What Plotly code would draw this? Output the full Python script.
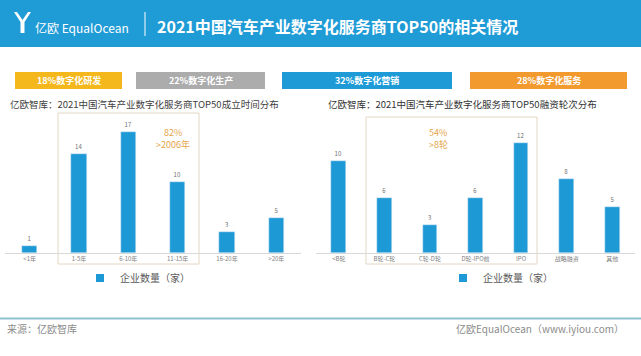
import plotly.graph_objects as go

W, H = 641, 356

# ---- data ----
year_cats = ["<1年", "1-5年", "6-10年", "11-15年", "16-20年", ">20年"]
year_vals = [1, 14, 17, 10, 3, 5]
round_cats = ["<B轮", "B轮-C轮", "C轮-D轮", "D轮-IPO前", "IPO", "战略融资", "其他"]
round_vals = [10, 6, 3, 6, 12, 8, 5]
tag_texts = ["18%数字化研发", "22%数字化生产", "32%数字化营销", "28%数字化服务"]
title_text = "2021中国汽车产业数字化服务商TOP50的相关情况"
sub_left = "亿欧智库：2021中国汽车产业数字化服务商TOP50成立时间分布"
sub_right = "亿欧智库：2021中国汽车产业数字化服务商TOP50融资轮次分布"
legend_name = "企业数量（家）"

FONT = "Noto Sans CJK SC, Noto Sans, sans-serif"
BLUE = "#1d9ad6"
HEADER = "#1f9bd6"


def px(x):
    return x / W


def py(y):
    return 1 - y / H


fig = go.Figure()

fig.add_trace(go.Bar(
    x=year_cats, y=year_vals, xaxis="x", yaxis="y",
    marker_color=BLUE, width=0.31, text=year_vals, textposition="outside",
    textfont=dict(size=6, color="#6f6f6f"), cliponaxis=False, showlegend=False,
))
fig.add_trace(go.Bar(
    x=round_cats, y=round_vals, xaxis="x2", yaxis="y2",
    marker_color=BLUE, width=0.32, text=round_vals, textposition="outside",
    textfont=dict(size=6, color="#6f6f6f"), cliponaxis=False, showlegend=False,
))
# legend entries
fig.add_trace(go.Scatter(x=[None], y=[None], mode="markers", name=legend_name,
                         marker=dict(symbol="square", size=8, color=BLUE),
                         legend="legend", xaxis="x", yaxis="y"))
fig.add_trace(go.Scatter(x=[None], y=[None], mode="markers", name=legend_name,
                         marker=dict(symbol="square", size=8, color=BLUE),
                         legend="legend2", xaxis="x2", yaxis="y2"))

base = 253
top = 118
axis_common = dict(showgrid=False, zeroline=False, ticks="", showline=True,
                   linecolor="#d9d9d9", linewidth=1,
                   tickfont=dict(size=6, color="#7f7f7f", family=FONT), fixedrange=True)

shapes = []
# header
shapes.append(dict(type="rect", xref="paper", yref="paper", x0=0, x1=1, y0=py(47), y1=1,
                   fillcolor=HEADER, line_width=0, layer="below"))
# logo icon
pts = [(14, 12), (17, 12), (22.5, 20), (28, 12), (31, 12), (24.5, 22), (24.5, 33), (20.5, 33), (20.5, 22)]
path = "M" + " L".join(f"{px(a):.5f},{py(b):.5f}" for a, b in pts) + " Z"
shapes.append(dict(type="path", xref="paper", yref="paper", path=path,
                   fillcolor="white", line_width=0))
# divider
shapes.append(dict(type="line", xref="paper", yref="paper", x0=px(145), x1=px(145),
                   y0=py(12), y1=py(36), line=dict(color="white", width=1)))
# tags
tag_boxes = [(15, 122, "#f4b71c"), (136, 265, "#acacac"), (282, 452, "#1e9bd7"), (470, 627, "#f39a2e")]
annotations = []
for (x0, x1, c), t in zip(tag_boxes, tag_texts):
    shapes.append(dict(type="rect", xref="paper", yref="paper", x0=px(x0), x1=px(x1),
                       y0=py(89), y1=py(72), fillcolor=c, line_width=0, layer="below"))
    annotations.append(dict(x=px((x0 + x1) / 2), y=py(80.5), xref="paper", yref="paper",
                            text="<b>" + t + "</b>", showarrow=False,
                            font=dict(size=9, color="white", family=FONT),
                            xanchor="center", yanchor="middle"))
# highlight boxes
shapes.append(dict(type="rect", xref="paper", yref="paper", x0=px(58), x1=px(199),
                   y0=py(264), y1=py(113), line=dict(color="#e2d6c2", width=1), layer="below"))
shapes.append(dict(type="rect", xref="paper", yref="paper", x0=px(366), x1=px(537),
                   y0=py(264), y1=py(117), line=dict(color="#e2d6c2", width=1), layer="below"))
# footer line
shapes.append(dict(type="line", xref="paper", yref="paper", x0=0, x1=1, y0=py(318.5), y1=py(318.5),
                   line=dict(color="#8fc0cf", width=2)))

# texts
annotations += [
    dict(x=px(33), y=py(27), text="亿欧 EqualOcean", xanchor="left", yanchor="middle",
         font=dict(size=12, color="white", family="Noto Sans CJK SC, Lato, sans-serif")),
    dict(x=px(337), y=py(26), text="<b>" + title_text + "</b>", xanchor="center", yanchor="middle",
         font=dict(size=16, color="white", family=FONT)),
    dict(x=px(144), y=py(103.5), text=sub_left, xanchor="center", yanchor="middle",
         font=dict(size=9.5, color="#404040", family=FONT)),
    dict(x=px(463), y=py(103.5), text=sub_right, xanchor="center", yanchor="middle",
         font=dict(size=9.5, color="#333333", family=FONT)),
    dict(x=px(173), y=py(132.5), text="82%", xanchor="center", yanchor="middle",
         font=dict(size=9, color="#e5a54c", family=FONT)),
    dict(x=px(173), y=py(144), text="&gt;2006年", xanchor="center", yanchor="middle",
         font=dict(size=9, color="#e5a54c", family=FONT)),
    dict(x=px(438), y=py(132.5), text="54%", xanchor="center", yanchor="middle",
         font=dict(size=9, color="#e5a54c", family=FONT)),
    dict(x=px(438), y=py(144), text="&gt;8轮", xanchor="center", yanchor="middle",
         font=dict(size=9, color="#e5a54c", family=FONT)),
    dict(x=px(5), y=py(328), text="来源：亿欧智库", xanchor="left", yanchor="middle",
         font=dict(size=10, color="#8c8c8c", family=FONT)),
    dict(x=px(626), y=py(328), text="亿欧EqualOcean（www.iyiou.com）", xanchor="right", yanchor="middle",
         font=dict(size=10, color="#8c8c8c", family=FONT)),
]
for a in annotations:
    a.setdefault("xref", "paper")
    a.setdefault("yref", "paper")
    a.setdefault("showarrow", False)

fig.update_layout(
    width=W, height=H, margin=dict(l=0, r=0, t=0, b=0),
    paper_bgcolor="white", plot_bgcolor="white",
    font=dict(family=FONT),
    bargap=0,
    xaxis=dict(domain=[px(5), px(301)], anchor="y", **axis_common),
    yaxis=dict(domain=[py(base), py(top)], range=[0, (base - top) / 7.1], visible=False, fixedrange=True),
    xaxis2=dict(domain=[px(316), px(635)], anchor="y2", **axis_common),
    yaxis2=dict(domain=[py(base), py(top)], range=[0, (base - top) / 9.2], visible=False, fixedrange=True),
    legend=dict(x=px(80), y=py(278), xanchor="left", yanchor="middle", orientation="h",
                font=dict(size=10, color="#595959", family=FONT), bgcolor="rgba(0,0,0,0)"),
    legend2=dict(x=px(443), y=py(278), xanchor="left", yanchor="middle", orientation="h",
                 font=dict(size=10, color="#595959", family=FONT), bgcolor="rgba(0,0,0,0)"),
    shapes=shapes,
    annotations=annotations,
)

fig.write_html("out.html", config={"displayModeBar": False},
               post_script="document.body.style.margin='0px';")
